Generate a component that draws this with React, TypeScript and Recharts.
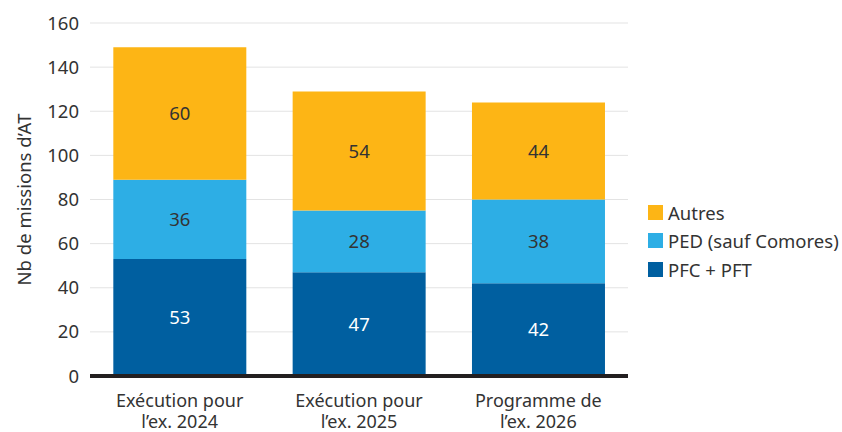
import { BarChart, Bar, XAxis, YAxis, CartesianGrid, LabelList } from 'recharts';

const categories = ['Exécution pour|l’ex. 2024', 'Exécution pour|l’ex. 2025', 'Programme de|l’ex. 2026'];
const pfcPft = [53, 47, 42];
const ped = [36, 28, 38];
const autres = [60, 54, 44];
const yTicks = [0, 20, 40, 60, 80, 100, 120, 140, 160];

const data = categories.map((name, i) => ({
  name,
  pfc: pfcPft[i],
  ped: ped[i],
  autres: autres[i],
}));

const FONT = '"Noto Sans", Lato, sans-serif';
const TEXT = '#333333';
const FS = 18.5;

const series = [
  { key: 'autres', name: 'Autres', color: '#FDB515', label: TEXT },
  { key: 'ped', name: 'PED (sauf Comores)', color: '#2DAEE5', label: TEXT },
  { key: 'pfc', name: 'PFC + PFT', color: '#005FA0', label: '#ffffff' },
];

function XTick({ x, y, payload }: any) {
  const lines = String(payload.value).split('|');
  return (
    <text x={x} y={y} textAnchor="middle" fill={TEXT} fontSize={18} fontFamily={FONT}>
      {lines.map((l, i) => (
        <tspan key={i} x={x} dy={i === 0 ? 29 : 21}>
          {l}
        </tspan>
      ))}
    </text>
  );
}

function LegendBox() {
  return (
    <div style={{ position: 'absolute', left: 648, top: 198, fontFamily: FONT, fontSize: FS, color: TEXT }}>
      {series.map((s) => (
        <div key={s.key} style={{ display: 'flex', alignItems: 'center', height: 28.5, whiteSpace: 'nowrap' }}>
          <span style={{ width: 15, height: 15, background: s.color, marginRight: 5, display: 'inline-block' }} />
          <span>{s.name}</span>
        </div>
      ))}
    </div>
  );
}

function YLabel({ viewBox }: any) {
  const cx = 23;
  const cy = viewBox.y + viewBox.height / 2;
  return (
    <text x={cx} y={cy} transform={`rotate(-90 ${cx} ${cy})`} textAnchor="middle" dominantBaseline="central" fill={TEXT} fontSize={FS} fontFamily={FONT}>
      Nb de missions d’AT
    </text>
  );
}

export default function App() {
  return (
    <div style={{ position: 'absolute', left: 0, top: 0, width: 842, height: 432, background: '#fff' }}>
      <BarChart
        width={842}
        height={432}
        data={data}
        margin={{ top: 23, right: 214, left: 0, bottom: 0 }}
        barCategoryGap="13%"
      >
        <CartesianGrid vertical={false} stroke="#e3e3e3" />
        <YAxis
          domain={[0, 160]}
          ticks={yTicks}
          width={90}
          axisLine={false}
          tickLine={false}
          tickSize={0}
          tickMargin={11}
          tick={{ fill: TEXT, fontSize: FS, fontFamily: FONT }}
          label={<YLabel />}
        />
        <XAxis
          dataKey="name"
          height={56}
          axisLine={{ stroke: '#231F20', strokeWidth: 4 }}
          tickLine={false}
          tickSize={0}
          tick={<XTick />}
          interval={0}
        />
        {[...series].reverse().map((s) => (
          <Bar key={s.key} dataKey={s.key} name={s.name} stackId="a" fill={s.color} isAnimationActive={false}>
            <LabelList dataKey={s.key} position="center" fill={s.label} fontSize={FS} fontFamily={FONT} />
          </Bar>
        ))}
      </BarChart>
      <LegendBox />
    </div>
  );
}
